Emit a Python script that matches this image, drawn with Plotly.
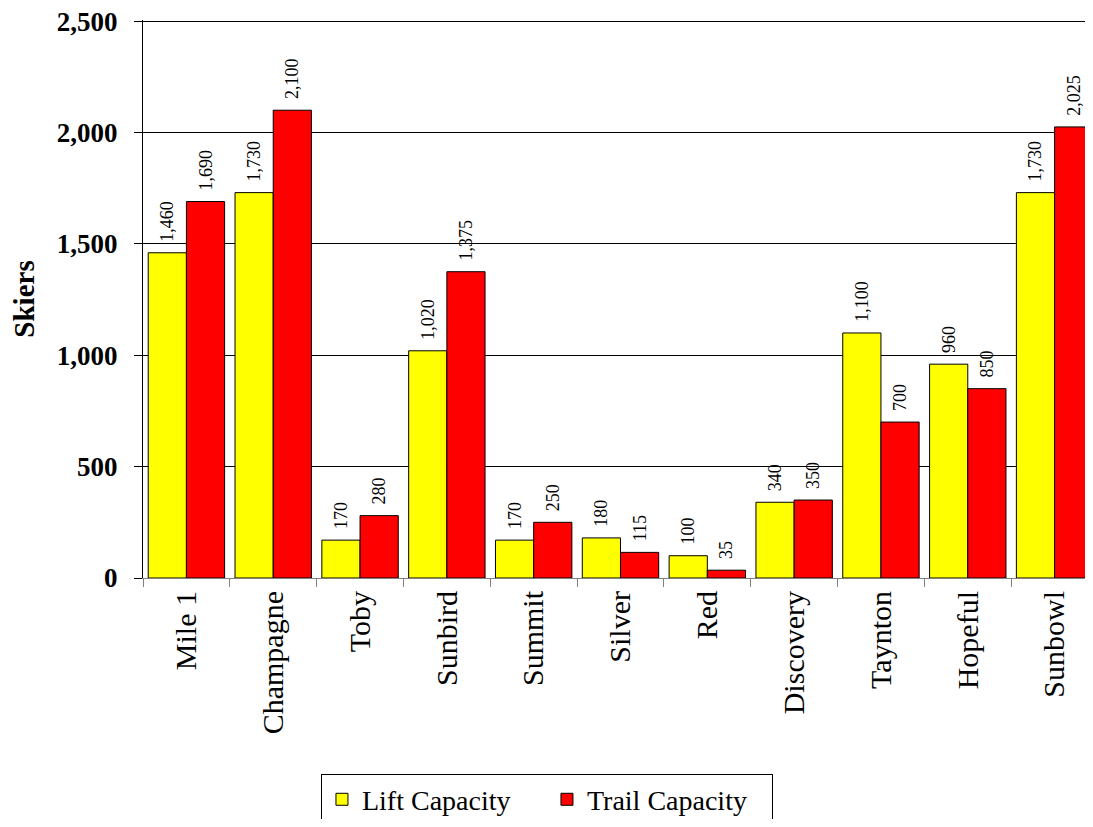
import plotly.graph_objects as go

categories = ["Mile 1", "Champagne", "Toby", "Sunbird", "Summit", "Silver", "Red",
              "Discovery", "Taynton", "Hopeful", "Sunbowl"]
lift = [1460, 1730, 170, 1020, 170, 180, 100, 340, 1100, 960, 1730]
trail = [1690, 2100, 280, 1375, 250, 115, 35, 350, 700, 850, 2025]
y_ticks = [0, 500, 1000, 1500, 2000, 2500]

font = "Liberation Serif, Times New Roman, serif"
label_tpl = "\u00a0\u2009%{y:,}"

fig = go.Figure()
fig.add_trace(go.Bar(name="Lift Capacity", x=categories, y=lift,
                     marker=dict(color="#FFFF00", line=dict(color="black", width=1)),
                     texttemplate=label_tpl, textposition="outside", textangle=-90,
                     textfont=dict(family=font, size=18, color="black"),
                     constraintext="none", cliponaxis=False))
fig.add_trace(go.Bar(name="Trail Capacity", x=categories, y=trail,
                     marker=dict(color="#FF0000", line=dict(color="black", width=1)),
                     texttemplate=label_tpl, textposition="outside", textangle=-90,
                     textfont=dict(family=font, size=18, color="black"),
                     constraintext="none", cliponaxis=False))

fig.update_layout(
    width=1091, height=811,
    margin=dict(l=135, r=1, t=12, b=241),
    plot_bgcolor="white", paper_bgcolor="white",
    barmode="group", bargap=0.12, bargroupgap=0,
    font=dict(family=font, color="black"),
    showlegend=True,
    legend=dict(orientation="h", x=0.423, xanchor="center", xref="paper",
                y=0.056, yanchor="top", yref="container",
                bordercolor="black", borderwidth=1,
                font=dict(family=font, size=28, color="black"),
                itemwidth=30, entrywidth=180, traceorder="normal"),
    xaxis=dict(tickangle=-90, tickfont=dict(family=font, size=30, color="black"),
               ticks="outside", tickson="boundaries", ticklen=8, tickcolor="#808080",
               showline=True, linecolor="#808080", linewidth=1, automargin=False),
    yaxis=dict(range=[0, 2505], tickvals=y_ticks,
               ticktext=[f"<b>{v:,}</b>" for v in y_ticks],
               tickfont=dict(family=font, size=27, color="black"),
               ticklabelstandoff=11, ticklabeloverflow="allow",
               title=dict(text="<b>Skiers</b>", font=dict(family=font, size=29, color="black"),
                          standoff=22),
               showgrid=True, gridcolor="black", gridwidth=1,
               showline=True, linecolor="black", linewidth=1,
               ticks="outside", ticklen=8, tickcolor="black", zeroline=False,
               automargin=False),
)

fig.write_html("out.html")
